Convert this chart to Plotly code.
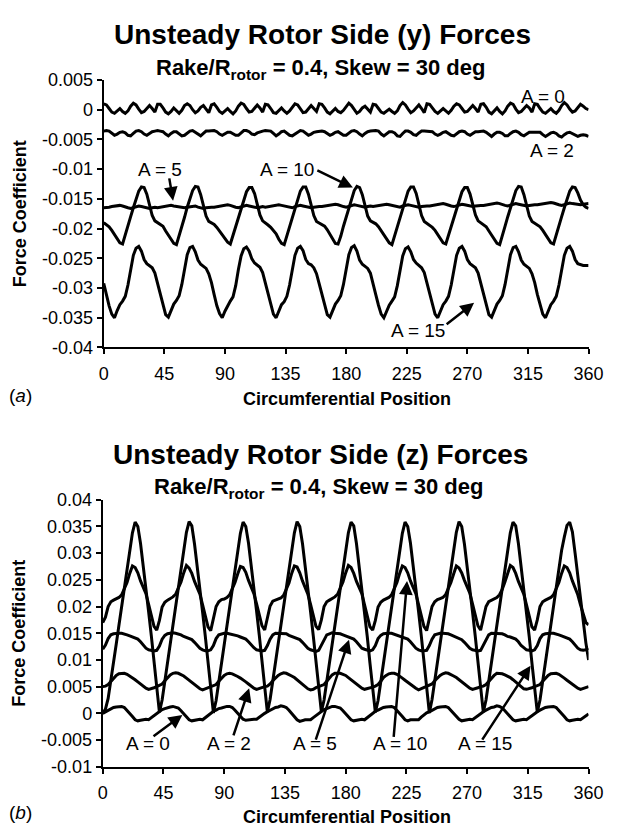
import plotly.graph_objects as go

# ---------------- data ----------------
# circumferential position (deg), sampled every 2 degrees
pos = list(range(0, 361, 2))
x_ticks = [0, 45, 90, 135, 180, 225, 270, 315, 360]

# force coefficients stored in units of 1e-4
UNIT = 1e-4

# (a) side (y) force
y_A0 = [
    10, 8, 2, -4, -6, -2, 2, -3, -6, -2, 6, 11, 8, 1, -5, -3, 3, 7, 2, -4,
    9, 9, 3, -4, -7, -3, 3, -2, -6, -1, 7, 10, 7, 0, -5, -2, 4, 7, 1, -5,
    8, 10, 4, -3, -6, -2, 2, -3, -7, -2, 6, 11, 9, 2, -4, -3, 3, 8, 3, -4,
    9, 8, 2, -5, -6, -1, 3, -2, -6, -2, 5, 10, 8, 1, -5, -4, 2, 7, 2, -3,
    10, 9, 3, -4, -7, -2, 2, -3, -5, -1, 6, 11, 7, 0, -6, -3, 3, 6, 1, -4,
    9, 8, 2, -4, -6, -3, 1, -3, -6, -2, 7, 12, 8, 1, -5, -2, 4, 8, 2, -5,
    10, 9, 3, -3, -6, -2, 2, -2, -6, -1, 6, 10, 8, 2, -4, -3, 3, 7, 2, -4,
    9, 10, 4, -4, -7, -2, 3, -3, -7, -2, 6, 11, 9, 1, -5, -3, 2, 7, 3, -4,
    10, 9, 2, -4, -6, -2, 2, -3, -6, -1, 7, 12, 8, 1, -4, -2, 3, 9, 6, 2,
    0]
y_A2 = [
    -36, -35, -36, -40, -43, -41, -38, -37, -39, -43, -44, -40, -36, -35, -37, -41, -43, -40, -37, -36,
    -35, -36, -37, -41, -44, -40, -37, -37, -40, -44, -43, -39, -36, -35, -38, -42, -44, -40, -36, -36,
    -36, -35, -37, -41, -43, -40, -38, -38, -40, -43, -43, -39, -35, -35, -37, -41, -42, -39, -37, -36,
    -35, -35, -36, -40, -44, -41, -37, -36, -39, -43, -44, -41, -37, -35, -36, -40, -43, -41, -38, -37,
    -36, -36, -37, -40, -43, -41, -38, -37, -40, -43, -43, -40, -36, -35, -37, -41, -44, -40, -37, -36,
    -35, -35, -36, -41, -44, -40, -37, -37, -39, -44, -45, -40, -36, -36, -38, -42, -43, -39, -36, -36,
    -36, -36, -37, -41, -43, -41, -38, -37, -40, -43, -44, -41, -37, -36, -37, -41, -43, -40, -37, -37,
    -37, -36, -38, -42, -45, -41, -38, -38, -40, -44, -44, -40, -37, -36, -38, -42, -44, -41, -38, -38,
    -38, -37, -38, -42, -45, -42, -39, -38, -40, -44, -46, -42, -39, -38, -40, -43, -45, -43, -42, -43,
    -45]
y_A5 = [
    -165, -165, -164, -163, -162, -161, -161, -162, -164, -165, -166, -165, -163, -162, -163, -164, -165, -166, -165, -164,
    -165, -164, -164, -162, -161, -161, -162, -163, -164, -165, -165, -164, -163, -162, -162, -164, -165, -166, -165, -164,
    -164, -164, -163, -162, -161, -160, -160, -161, -163, -164, -165, -164, -162, -161, -162, -163, -164, -165, -164, -163,
    -164, -163, -163, -162, -160, -160, -161, -162, -163, -164, -165, -163, -162, -161, -162, -163, -164, -165, -164, -163,
    -163, -163, -162, -161, -160, -159, -159, -160, -162, -163, -164, -163, -161, -160, -161, -162, -163, -164, -163, -162,
    -163, -162, -162, -161, -159, -159, -160, -161, -162, -163, -164, -162, -161, -160, -161, -162, -163, -164, -163, -162,
    -162, -162, -161, -160, -159, -158, -158, -159, -161, -162, -163, -162, -160, -159, -160, -161, -162, -163, -162, -161,
    -161, -161, -160, -159, -158, -157, -157, -158, -160, -161, -162, -161, -159, -158, -159, -160, -161, -162, -161, -160,
    -160, -160, -159, -158, -157, -156, -156, -157, -159, -160, -161, -160, -158, -157, -158, -159, -160, -160, -159, -158,
    -158]
y_A10 = [
    -190, -193, -197, -203, -210, -218, -224, -226, -212, -195, -180, -165, -150, -137, -130, -131, -142, -160, -178, -187,
    -190, -192, -196, -204, -211, -219, -225, -227, -213, -196, -181, -164, -149, -136, -129, -130, -143, -161, -179, -188,
    -191, -193, -198, -204, -210, -217, -223, -226, -211, -194, -179, -165, -151, -138, -131, -131, -141, -159, -177, -187,
    -190, -194, -198, -203, -209, -218, -225, -227, -212, -195, -180, -166, -150, -137, -130, -130, -142, -160, -178, -188,
    -191, -193, -196, -202, -210, -219, -225, -226, -213, -196, -180, -165, -149, -136, -129, -131, -143, -161, -179, -187,
    -190, -192, -197, -204, -211, -218, -224, -227, -212, -195, -181, -165, -150, -137, -130, -130, -141, -159, -178, -188,
    -191, -194, -198, -203, -210, -217, -224, -226, -211, -195, -180, -166, -151, -138, -131, -131, -142, -160, -177, -187,
    -190, -193, -197, -204, -211, -219, -225, -227, -213, -196, -180, -164, -149, -136, -129, -130, -143, -161, -179, -188,
    -191, -193, -197, -203, -210, -218, -224, -226, -212, -195, -180, -165, -150, -137, -130, -131, -140, -152, -160, -164,
    -166]
y_A15 = [
    -292, -312, -330, -344, -350, -338, -328, -322, -314, -295, -268, -245, -233, -230, -238, -252, -259, -262, -266, -275,
    -293, -313, -331, -345, -349, -337, -327, -321, -313, -294, -267, -244, -232, -230, -239, -253, -260, -263, -267, -276,
    -291, -311, -330, -343, -350, -339, -329, -322, -315, -296, -269, -246, -234, -231, -238, -251, -258, -262, -265, -274,
    -292, -313, -331, -344, -350, -338, -328, -323, -314, -295, -268, -245, -233, -230, -237, -252, -259, -261, -266, -276,
    -293, -312, -330, -345, -349, -337, -327, -321, -313, -294, -268, -244, -232, -229, -238, -253, -260, -263, -267, -275,
    -291, -311, -329, -344, -350, -339, -329, -322, -315, -296, -269, -246, -234, -231, -239, -252, -258, -262, -266, -274,
    -292, -312, -331, -344, -350, -338, -328, -322, -314, -295, -268, -245, -233, -230, -238, -252, -259, -262, -266, -275,
    -293, -313, -330, -345, -349, -337, -327, -321, -313, -294, -267, -244, -232, -230, -239, -253, -260, -263, -267, -276,
    -291, -311, -330, -344, -350, -338, -328, -322, -314, -295, -268, -245, -233, -230, -238, -252, -259, -261, -262, -262,
    -262]

# (b) side (z) force
z_A0 = [
    0, 3, 6, 9, 11, 12, 13, 13, 11, 6, 0, -6, -12, -14, -13, -12, -11, -12, -8, -4,
    0, 4, 7, 9, 11, 12, 13, 12, 10, 5, -1, -7, -12, -14, -13, -11, -11, -12, -8, -3,
    1, 4, 6, 9, 10, 12, 13, 13, 11, 6, 0, -6, -11, -13, -12, -12, -11, -11, -7, -3,
    0, 3, 6, 8, 11, 12, 14, 13, 11, 6, 0, -6, -12, -15, -13, -12, -12, -12, -8, -4,
    0, 3, 7, 9, 11, 13, 13, 12, 10, 5, -1, -7, -12, -14, -13, -11, -11, -12, -8, -4,
    0, 4, 6, 9, 11, 12, 13, 13, 11, 6, 0, -6, -12, -14, -12, -12, -11, -12, -7, -3,
    1, 3, 6, 9, 11, 12, 13, 13, 11, 6, 0, -6, -11, -14, -13, -12, -11, -12, -8, -4,
    0, 3, 6, 9, 11, 12, 14, 13, 10, 5, -1, -7, -12, -14, -13, -11, -11, -12, -8, -4,
    0, 3, 6, 9, 11, 12, 13, 13, 11, 6, 0, -6, -12, -14, -13, -12, -11, -12, -8, -4,
    -1]
z_A2 = [
    50, 51, 54, 60, 66, 71, 74, 75, 75, 73, 70, 67, 63, 59, 55, 51, 47, 45, 46, 48,
    50, 52, 55, 61, 67, 72, 75, 76, 75, 73, 70, 66, 62, 58, 54, 50, 46, 44, 46, 49,
    51, 52, 54, 60, 66, 71, 74, 75, 74, 72, 69, 66, 63, 59, 55, 51, 47, 45, 47, 49,
    50, 51, 55, 61, 67, 71, 74, 76, 75, 73, 70, 67, 63, 59, 55, 51, 46, 44, 45, 48,
    50, 52, 54, 60, 66, 72, 75, 75, 75, 73, 71, 67, 63, 59, 54, 50, 47, 45, 46, 48,
    49, 51, 54, 60, 67, 71, 74, 75, 75, 73, 70, 66, 62, 58, 55, 51, 47, 44, 46, 49,
    50, 52, 55, 61, 66, 71, 74, 76, 75, 73, 70, 67, 63, 59, 55, 51, 47, 45, 46, 48,
    50, 51, 54, 60, 66, 71, 75, 75, 74, 72, 70, 67, 63, 59, 55, 50, 46, 45, 46, 48,
    50, 52, 54, 60, 66, 71, 74, 75, 75, 73, 70, 66, 62, 58, 54, 50, 47, 45, 47, 49,
    50]
z_A5 = [
    120, 128, 140, 147, 149, 150, 150, 150, 149, 147, 145, 143, 141, 139, 134, 127, 122, 119, 118, 117,
    118, 126, 139, 146, 149, 150, 151, 150, 149, 147, 144, 142, 141, 138, 133, 127, 122, 119, 117, 117,
    119, 127, 140, 147, 149, 150, 150, 149, 148, 147, 145, 143, 141, 139, 134, 128, 123, 119, 118, 117,
    118, 127, 139, 147, 150, 150, 150, 150, 149, 146, 144, 143, 140, 138, 133, 127, 122, 119, 118, 116,
    118, 128, 140, 147, 149, 151, 150, 150, 149, 147, 145, 143, 141, 139, 134, 127, 122, 120, 118, 117,
    119, 127, 140, 146, 149, 150, 150, 150, 148, 147, 145, 142, 141, 139, 134, 128, 122, 119, 117, 117,
    118, 127, 139, 147, 149, 150, 150, 150, 149, 147, 145, 143, 140, 138, 133, 127, 122, 119, 118, 117,
    118, 128, 140, 147, 150, 150, 150, 149, 149, 147, 144, 143, 141, 139, 134, 127, 123, 119, 118, 117,
    119, 127, 140, 147, 149, 150, 150, 150, 149, 147, 145, 143, 141, 139, 134, 127, 122, 119, 118, 119,
    122]
z_A10 = [
    170, 180, 200, 209, 212, 214, 217, 222, 232, 245, 262, 276, 273, 263, 248, 236, 224, 204, 182, 163,
    156, 174, 199, 208, 212, 215, 218, 223, 233, 246, 263, 277, 272, 262, 247, 235, 223, 203, 181, 162,
    155, 175, 200, 209, 213, 214, 217, 222, 232, 245, 261, 275, 273, 264, 249, 237, 224, 205, 183, 164,
    156, 176, 201, 210, 212, 214, 216, 221, 231, 244, 262, 276, 274, 263, 248, 236, 223, 204, 182, 163,
    157, 175, 200, 209, 212, 215, 218, 223, 233, 246, 263, 277, 273, 262, 247, 235, 224, 203, 181, 162,
    156, 174, 199, 208, 212, 214, 217, 222, 232, 245, 262, 276, 273, 263, 248, 236, 224, 204, 182, 163,
    155, 175, 200, 209, 213, 215, 217, 222, 232, 245, 261, 276, 272, 263, 249, 237, 225, 205, 183, 164,
    156, 176, 200, 209, 212, 214, 217, 222, 232, 246, 263, 277, 273, 262, 247, 235, 223, 203, 181, 162,
    156, 175, 200, 209, 212, 214, 217, 222, 232, 245, 262, 276, 273, 263, 248, 236, 222, 203, 184, 170,
    166]
z_A15 = [
    0, 8, 28, 60, 95, 130, 165, 200, 235, 270, 305, 338, 358, 350, 318, 278, 235, 190, 145, 95,
    45, 2, 25, 61, 96, 131, 166, 201, 236, 271, 306, 339, 359, 351, 317, 277, 234, 189, 144, 94,
    44, 1, 24, 59, 94, 129, 164, 199, 234, 269, 304, 337, 358, 350, 319, 279, 236, 191, 146, 96,
    46, 2, 26, 60, 95, 130, 165, 200, 235, 270, 305, 338, 359, 350, 318, 278, 235, 190, 145, 95,
    45, 3, 25, 60, 96, 131, 165, 200, 236, 271, 305, 338, 358, 351, 318, 277, 234, 190, 144, 94,
    44, 2, 24, 59, 95, 130, 164, 199, 235, 270, 304, 337, 358, 350, 319, 279, 236, 191, 146, 96,
    46, 1, 26, 61, 95, 130, 166, 201, 235, 270, 306, 339, 359, 350, 317, 278, 235, 190, 145, 95,
    45, 2, 25, 60, 94, 129, 165, 200, 234, 269, 305, 338, 358, 351, 318, 277, 235, 189, 144, 95,
    45, 2, 25, 60, 95, 130, 165, 200, 235, 270, 305, 330, 352, 358, 340, 300, 258, 215, 172, 132,
    100]

top_series = [y_A0, y_A2, y_A5, y_A10, y_A15]
bot_series = [z_A0, z_A2, z_A5, z_A10, z_A15]
for s in top_series + bot_series:
    assert len(s) == len(pos), len(s)

top_ticks = [0.005, 0, -0.005, -0.01, -0.015, -0.02, -0.025, -0.03, -0.035, -0.04]
top_ticktext = ["0.005", "0", "-0.005", "-0.01", "-0.015", "-0.02", "-0.025", "-0.03", "-0.035", "-0.04"]
bot_ticks = [0.04, 0.035, 0.03, 0.025, 0.02, 0.015, 0.01, 0.005, 0, -0.005, -0.01]
bot_ticktext = ["0.04", "0.035", "0.03", "0.025", "0.02", "0.015", "0.01", "0.005", "0", "-0.005", "-0.01"]

# labels: (text, label x, label y, arrow tail x, tail y, arrow head x, head y) ; None = no arrow
top_labels = [
    ("A = 0", 326, 0.0023, None, None, None, None),
    ("A = 2", 333, -0.0069, None, None, None, None),
    ("A = 5", 41.5, -0.0101, 48.5, -0.0113, 51.5, -0.0153),
    ("A = 10", 136, -0.0101, 157.5, -0.0101, 185, -0.0131),
    ("A = 15", 233.5, -0.0372, 253.5, -0.0363, 275, -0.0325),
]
bot_labels = [
    ("A = 0", 33.5, -0.0056, 36.5, -0.0045, 59, -0.0003),
    ("A = 2", 93.5, -0.0056, 96.5, -0.0044, 108.5, 0.0047),
    ("A = 5", 157.5, -0.0056, 157.5, -0.0052, 182.5, 0.0138),
    ("A = 10", 220.5, -0.0056, 215.5, -0.0047, 225.5, 0.0248),
    ("A = 15", 283, -0.0056, 280.5, -0.0052, 317, 0.0089),
]

# ---------------- figure ----------------
FONT = "Liberation Sans, Arial, sans-serif"
W, H = 621, 837

fig = go.Figure()
for s in top_series:
    fig.add_trace(go.Scatter(x=pos, y=[v * UNIT for v in s], mode="lines",
                             line=dict(color="black", width=3),
                             xaxis="x", yaxis="y", hoverinfo="skip"))
for s in bot_series:
    fig.add_trace(go.Scatter(x=pos, y=[v * UNIT for v in s], mode="lines",
                             line=dict(color="black", width=3),
                             xaxis="x2", yaxis="y2", hoverinfo="skip"))

axis_common = dict(showline=True, linecolor="black", linewidth=2, ticks="outside",
                   ticklen=5, tickwidth=2, tickcolor="black", showgrid=False,
                   zeroline=False, tickfont=dict(family=FONT, size=18, color="black"))

fig.update_layout(
    width=W, height=H, margin=dict(l=0, r=0, t=0, b=0),
    paper_bgcolor="white", plot_bgcolor="white", showlegend=False,
    xaxis=dict(domain=[102 / W, 603 / W], range=[0, 360], anchor="y",
               tickvals=x_ticks, ticktext=[str(t) for t in x_ticks],
               ticklabelstandoff=4, **axis_common),
    yaxis=dict(domain=[1 - 345.7 / H, 1 - 71.7 / H], range=[-0.04, 0.005], anchor="x",
               tickvals=top_ticks, ticktext=top_ticktext, **axis_common),
    xaxis2=dict(domain=[101 / W, 603 / W], range=[0, 360], anchor="y2",
                tickvals=x_ticks, ticktext=[str(t) for t in x_ticks],
                ticklabelstandoff=4, **axis_common),
    yaxis2=dict(domain=[1 - 775.3 / H, 1 - 501.7 / H], range=[-0.01, 0.04], anchor="x2",
                tickvals=bot_ticks, ticktext=bot_ticktext, **axis_common),
)


def paper_text(text, xpx, ypx, size, angle=0):
    fig.add_annotation(text=text, x=xpx / W, y=1 - ypx / H, xref="paper", yref="paper",
                       xanchor="center", yanchor="middle", showarrow=False, textangle=angle,
                       font=dict(family=FONT, size=size, color="black"))


# titles
paper_text("<b>Unsteady Rotor Side (y) Forces</b>", 328, 25, 28)
paper_text("<b>Rake/R<sub>rotor</sub> = 0.4, Skew = 30 deg</b>", 326, 60, 22)
paper_text("<b>Unsteady Rotor Side (z) Forces</b>", 326, 455, 28)
paper_text("<b>Rake/R<sub>rotor</sub> = 0.4, Skew = 30 deg</b>", 324, 490, 22)
# axis titles
paper_text("<b>Circumferential Position</b>", 353, 399, 18)
paper_text("<b>Circumferential Position</b>", 353, 827, 18)
paper_text("<b>Force Coefficient</b>", 15, 208.7, 18, angle=-90)
paper_text("<b>Force Coefficient</b>", 15, 638.5, 18, angle=-90)
# panel tags
paper_text("(<i>a</i>)", 16, 395, 19)
paper_text("(<i>b</i>)", 16, 822, 19)


def add_labels(labels, xr, yr):
    for text, lx, ly, tx, ty, hx, hy in labels:
        fig.add_annotation(text=text, x=lx, y=ly, xref=xr, yref=yr, showarrow=False,
                           xanchor="center", yanchor="middle",
                           font=dict(family=FONT, size=19, color="black"))
        if tx is not None:
            fig.add_annotation(text="", x=hx, y=hy, ax=tx, ay=ty, xref=xr, yref=yr,
                               axref=xr, ayref=yr, showarrow=True, arrowhead=2,
                               arrowsize=1.1, arrowwidth=2.5, arrowcolor="black", standoff=0)


add_labels(top_labels, "x", "y")
add_labels(bot_labels, "x2", "y2")

fig.write_html("out.html")
